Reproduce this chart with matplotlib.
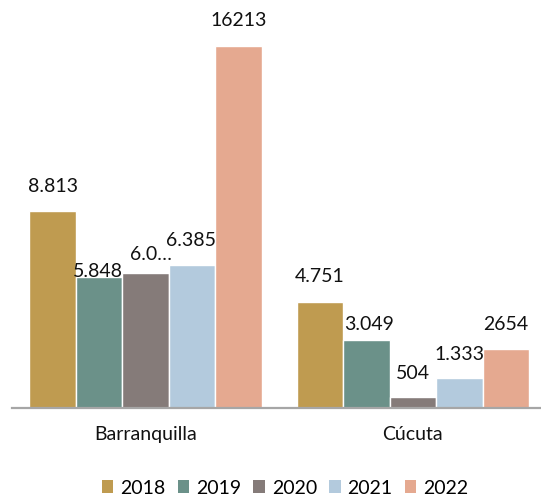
import matplotlib
matplotlib.use("Agg")
import matplotlib.pyplot as plt
import numpy as np
from matplotlib.patches import Patch

plt.rcParams['font.family'] = ['Lato', 'DejaVu Sans']

categories = ["Barranquilla", "Cúcuta"]
series_names = ["2018", "2019", "2020", "2021", "2022"]
values = {
    "2018": [8813, 4751],
    "2019": [5848, 3049],
    "2020": [6050, 504],
    "2021": [6385, 1333],
    "2022": [16213, 2654],
}
labels = {
    "2018": ["8.813", "4.751"],
    "2019": ["5.848", "3.049"],
    "2020": ["6.0…", "504"],
    "2021": ["6.385", "1.333"],
    "2022": ["16213", "2654"],
}
colors = ["#BF9B50", "#6B9189", "#857B79", "#B3CADD", "#E5A990"]

# label offsets in pixels (dx, dy above bar top) -- styling only
offsets = {
    "2018": [(0, 25), (0, 25)],
    "2019": [(-1.5, 5.5), (2.3, 15.7)],
    "2020": [(5.6, 18), (0, 23)],
    "2021": [(-1, 25), (0, 24)],
    "2022": [(0, 25.5), (0, 24.7)],
}

FS = 14
W, H = 541, 495
fig = plt.figure(figsize=(W / 100, H / 100), dpi=100)
left = 12 / W
right = 546.5 / W
bottom = (H - 408) / H
top_px = 28
ax = fig.add_axes([left, bottom, right - left, (408 - top_px) / H])

n = len(series_names)
bw = 0.174
x = np.arange(len(categories))
for i, s in enumerate(series_names):
    pos = x + (i - (n - 1) / 2) * bw
    ax.bar(pos, values[s], width=bw, color=colors[i], edgecolor="white",
           linewidth=1.0, zorder=2)
    for j in range(len(categories)):
        dx, dy = offsets[s][j]
        ax.annotate(labels[s][j], xy=(pos[j], values[s][j]),
                    xytext=(dx, dy), textcoords="offset pixels",
                    ha="center", va="center", fontsize=FS, color="#111111",
                    zorder=3)

ax.set_xlim(-0.5, len(categories) - 0.5)
scale = 362 / 16213  # px per unit
ax.set_ylim(0, (408 - top_px) / scale)
ax.set_xticks(x)
ax.set_xticklabels(categories, fontsize=FS, color="#111111")
ax.tick_params(axis="x", length=0, pad=13)
ax.set_yticks([])
for sp in ["top", "right", "left"]:
    ax.spines[sp].set_visible(False)
ax.spines["bottom"].set_color("#A6A6A6")
ax.spines["bottom"].set_linewidth(1.6)
ax.spines["bottom"].set_zorder(4)

handles = [Patch(facecolor=colors[i], label=series_names[i]) for i in range(n)]
fig.legend(handles=handles, loc="center", bbox_to_anchor=(285 / W, (H - 488) / H),
           ncol=n, frameon=False, fontsize=FS, handlelength=0.6,
           handleheight=0.6, handletextpad=0.35, columnspacing=0.62)

fig.savefig("out.png", dpi=100)
